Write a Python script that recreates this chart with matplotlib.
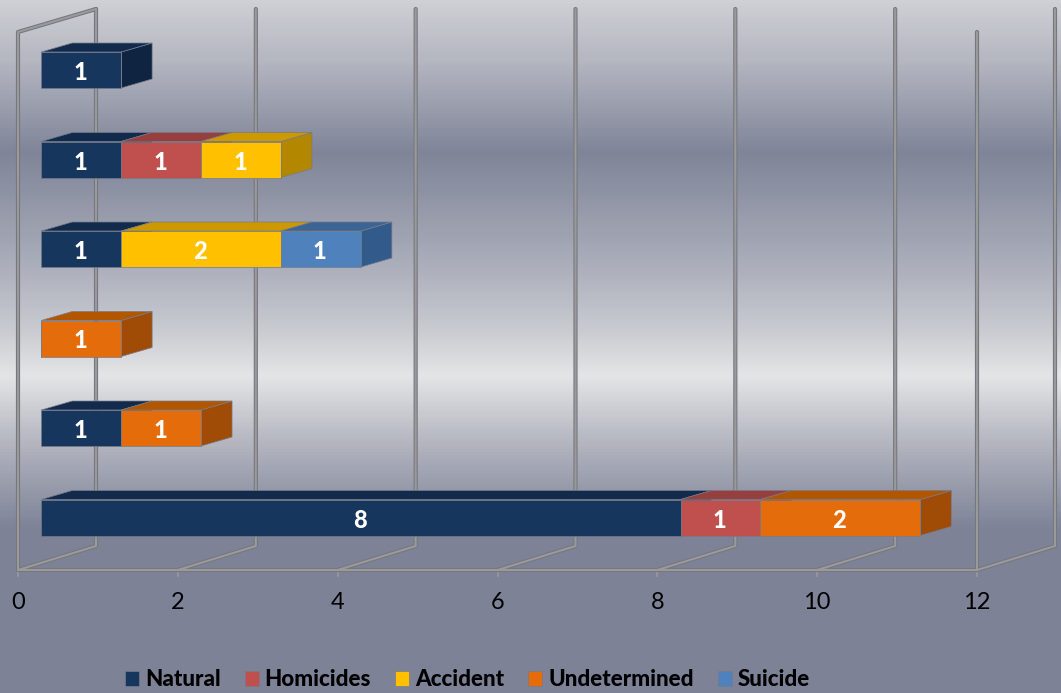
import numpy as np
import matplotlib
matplotlib.use("Agg")
import matplotlib.pyplot as plt
from matplotlib.colors import LinearSegmentedColormap
from matplotlib.patches import Polygon

plt.rcParams['font.family'] = ['Lato', 'DejaVu Sans']

W, H = 1061, 693

# rows bottom to top
rows = [0, 1, 2, 3, 4, 5]
natural = [8, 1, 0, 1, 1, 1]
homicides = [1, 0, 0, 0, 1, 0]
accident = [0, 0, 0, 2, 1, 0]
undetermined = [2, 1, 1, 0, 0, 0]
suicide = [0, 0, 0, 1, 0, 0]
series_names = ["Natural", "Homicides", "Accident", "Undetermined", "Suicide"]
x_ticks = [0, 2, 4, 6, 8, 10, 12]

front_colors = ["#17365D", "#C0504D", "#FFC000", "#E46C0A", "#4F81BD"]
top_colors = ["#122B4C", "#973F3F", "#CC9900", "#B35600", "#3A6594"]
side_colors = ["#0F2440", "#8F3B39", "#B38700", "#A04C07", "#325A8A"]

# one unit on each scale, in pixels
PX_X = (977 - 18) / 12
PX_Y = 89.5

fig = plt.figure(figsize=(W / 100, H / 100), dpi=100)
ax = fig.add_axes([0, 0, 1, 1])
ax.axis("off")


def px_h(p):
    return p / PX_X


def px_v(p):
    return p / PX_Y


def y_of(p):
    # pixel row in the picture to y value
    return (517.5 - p) / PX_Y


# background
stops = [(0, "#CFD0D5"), (60 / H, "#B4B6C0"), (152 / H, "#7F8498"), (260 / H, "#A9ACB9"),
         (330 / H, "#C9CBD1"), (376 / H, "#E4E5E6"), (450 / H, "#AFB1BC"), (530 / H, "#7D8297"),
         (1, "#7D8297")]
cmap = LinearSegmentedColormap.from_list("bg", stops)
grad = np.linspace(0, 1, H).reshape(-1, 1)
ax.imshow(grad, cmap=cmap, aspect="auto", origin="upper", transform=ax.transAxes,
          extent=(0, 1, 0, 1), zorder=0)
ax.set_xlim(-18 / PX_X, (W - 18) / PX_X)
ax.set_ylim(-(H - 517.5) / PX_Y, 517.5 / PX_Y)

# walls and floor
floor = y_of(570)
back_floor = y_of(546)
back_top = y_of(9)
depth = px_h(78)


def wall_line(xs, ys):
    ax.plot(xs, ys, color="#75777F", lw=3, zorder=1, solid_capstyle="round", solid_joinstyle="round")
    ax.plot(xs, ys, color="#9A9A9A", lw=1.5, zorder=1.1, solid_capstyle="round", solid_joinstyle="round")


for t in x_ticks:
    wall_line([t, t + depth, t + depth], [floor, back_floor, back_top])
    ax.plot([t, t], [floor, y_of(576)], color="#9A9A9A", lw=1.2, zorder=1)
    ax.text(t, y_of(602.5), str(t), ha="center", va="center", fontsize=17, color="black")
wall_line([0, 0, depth], [floor, y_of(32), back_top])
wall_line([12, 12], [floor, y_of(32)])
wall_line([0, 12], [floor, floor])

# bars
start = px_h(23.2)
dx = px_h(31)
dy = px_v(9)
half = px_v(18)
left = np.full(len(rows), start, dtype=float)
edge = "#767B8A"
all_series = [natural, homicides, accident, undetermined, suicide]
for name, values, fc, tc, sc in zip(series_names, all_series, front_colors, top_colors, side_colors):
    for r, v, x0 in zip(rows, values, left):
        if v == 0:
            continue
        x1 = x0 + v
        top = [(x0, r + half), (x1, r + half), (x1 + dx, r + half + dy), (x0 + dx, r + half + dy)]
        side = [(x1, r - half), (x1 + dx, r - half + dy), (x1 + dx, r + half + dy), (x1, r + half)]
        ax.add_patch(Polygon(side, closed=True, fc=sc, ec=edge, lw=0.5, zorder=2))
        ax.add_patch(Polygon(top, closed=True, fc=tc, ec=edge, lw=0.5, zorder=3))
        ax.text(x0 + v / 2 - px_h(1), r - px_v(2.5), str(v), ha="center", va="center", fontsize=17,
                fontweight="black", color="white", zorder=5)
    ax.barh(rows, values, left=left, height=2 * half, color=fc, edgecolor=edge, linewidth=0.5,
            label=name, zorder=4)
    left = left + np.array(values)

ax.legend(loc="center", bbox_to_anchor=(467.5 / W, 1 - 680 / H), ncol=5, frameon=False,
          prop={"size": 16.1, "weight": "black"}, handlelength=0.62, handleheight=0.62,
          handletextpad=0.27, columnspacing=1.08, labelcolor="black")

fig.savefig("out.png", dpi=100)
